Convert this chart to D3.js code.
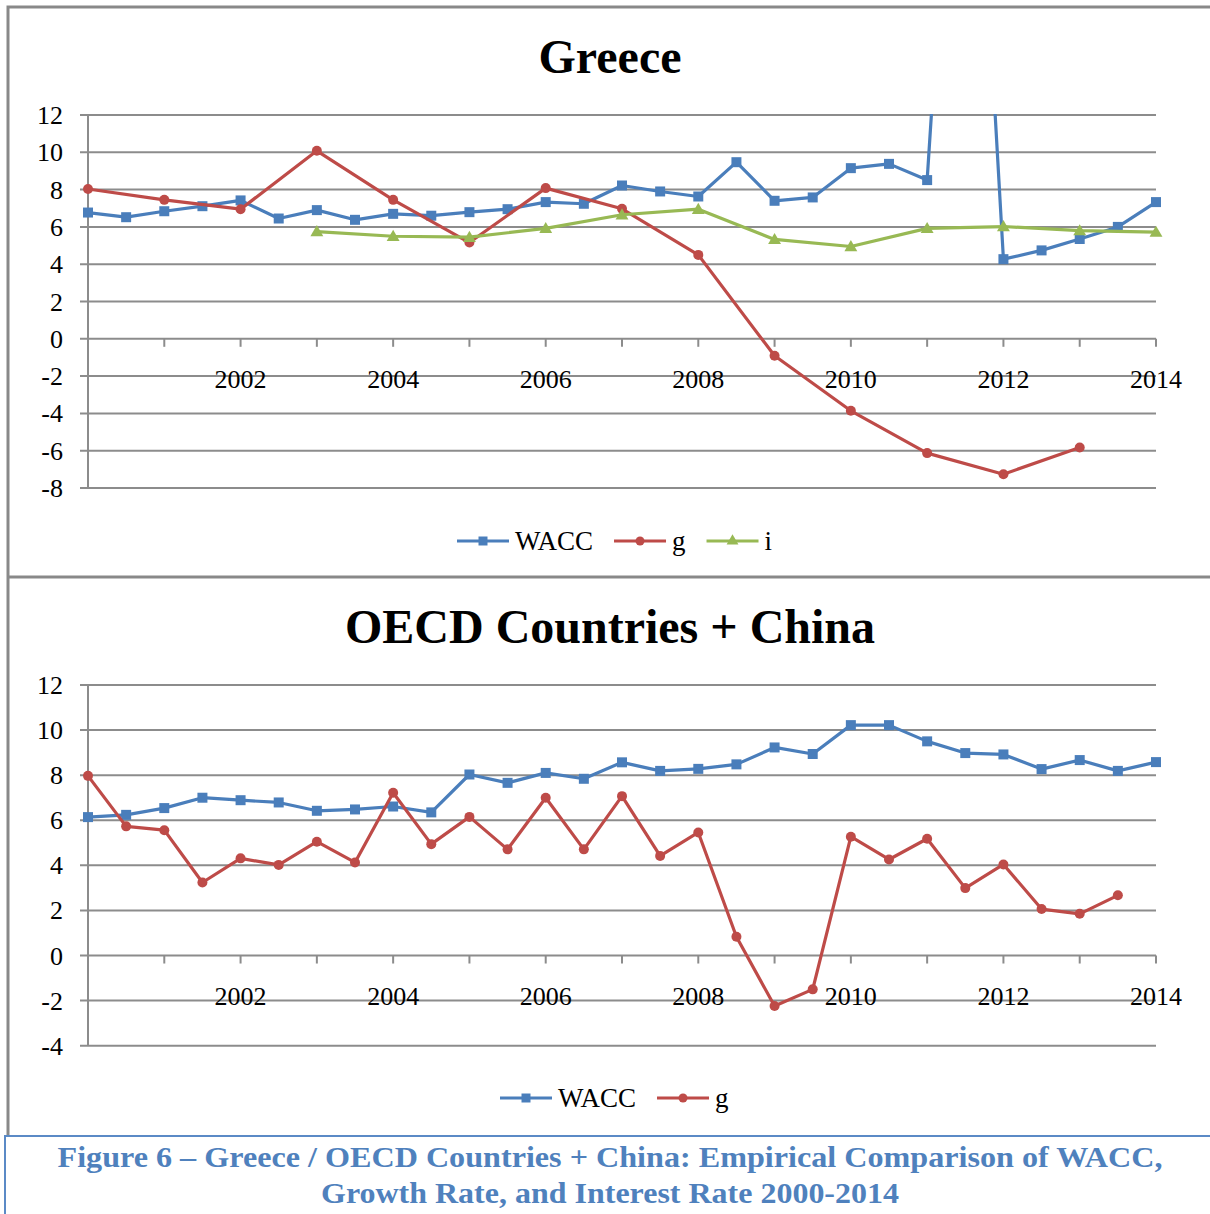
<!DOCTYPE html>
<html>
<head>
<meta charset="utf-8">
<script src="https://cdn.jsdelivr.net/npm/d3@7/dist/d3.min.js"></script>
<style>
  body { margin: 0; background: #fff; }
  svg text { font-family: "Liberation Serif", "Times New Roman", serif; }
</style>
</head>
<body>
<div id="chart"></div>
<script>
// half-year steps 2000 .. 2014
const halfYears = d3.range(0, 29).map(i => 2000 + i / 2);
const years = d3.range(2000, 2015);
const yearLabels = ['2002', '2004', '2006', '2008', '2010', '2012', '2014'];

// Greece
const greeceWacc = [6.77, 6.52, 6.84, 7.11, 7.42, 6.45, 6.90, 6.38, 6.70, 6.60, 6.79, 6.95, 7.33, 7.24,
  8.22, 7.90, 7.63, 9.47, 7.40, 7.58, 9.15, 9.38, 8.51, 40.0, 4.27, 4.74, 5.35, 6.00, 7.33];
const greeceG = [8.03, 7.45, 6.95, 10.08, 7.45, 5.16, 8.08, 6.97, 4.50, -0.91, -3.86, -6.13, -7.26, -5.83];
const greeceI = [null, null, null, 5.75, 5.50, 5.45, 5.92, 6.65, 6.95, 5.33, 4.95, 5.92, 6.02, 5.80, 5.72];

// OECD + China
const oecdWacc = [6.14, 6.24, 6.54, 7.00, 6.89, 6.79, 6.42, 6.48, 6.61, 6.35, 8.03, 7.66, 8.10, 7.84,
  8.57, 8.19, 8.28, 8.48, 9.23, 8.94, 10.22, 10.22, 9.50, 8.98, 8.92, 8.27, 8.67, 8.19, 8.58];
const oecdG = [7.97, 5.73, 5.56, 3.24, 4.31, 4.02, 5.05, 4.13, 7.22, 4.94, 6.15, 4.71, 7.00, 4.71,
  7.07, 4.42, 5.46, 0.83, -2.24, -1.50, 5.27, 4.26, 5.18, 2.99, 4.04, 2.06, 1.85, 2.67];

const blue = '#4a7ebb', red = '#be4b48', green = '#98b954', grid = '#8c8c8c';

const svg = d3.select('#chart').append('svg')
  .attr('width', 1210)
  .attr('height', 1214);

// frames
svg.append('path')
  .attr('d', 'M8,1135 V7 H1212 M8,577 H1212')
  .attr('fill', 'none').attr('stroke', '#898989').attr('stroke-width', 3);
svg.append('path')
  .attr('d', 'M5,1216 V1136 H1212')
  .attr('fill', 'none').attr('stroke', '#5b8ac6').attr('stroke-width', 2);

const x = d3.scaleLinear().domain([2000, 2014]).range([88, 1156]);

function marker(g, type, color, size) {
  if (type === 'square') return g.append('path').attr('d', d3.symbol(d3.symbolSquare, size * size)()).attr('fill', color);
  if (type === 'circle') return g.append('circle').attr('r', size / 2).attr('fill', color);
  return g.append('path').attr('d', d3.symbol(d3.symbolTriangle, size * size * 0.5)()).attr('fill', color);
}

function drawChart({ id, title, titleY, yDomain, yTop, yBottom, yTicks, labelY, series, legendY, legendX }) {
  const y = d3.scaleLinear().domain(yDomain).range([yBottom, yTop]);
  const g = svg.append('g');

  g.append('text')
    .attr('x', 610).attr('y', titleY)
    .attr('text-anchor', 'middle')
    .attr('font-size', 48).attr('font-weight', 'bold')
    .text(title);

  // gridlines
  g.append('g').selectAll('line')
    .data(yTicks)
    .join('line')
    .attr('x1', 80).attr('x2', 1156)
    .attr('y1', d => y(d)).attr('y2', d => y(d))
    .attr('stroke', grid).attr('stroke-width', 2);

  g.append('g').selectAll('text')
    .data(yTicks)
    .join('text')
    .attr('x', 63).attr('y', d => y(d) + 9)
    .attr('text-anchor', 'end')
    .attr('font-size', 26)
    .text(d => d);

  // axes
  g.append('line')
    .attr('x1', x(2000)).attr('x2', x(2000))
    .attr('y1', yTop).attr('y2', yBottom)
    .attr('stroke', grid).attr('stroke-width', 2);
  g.append('g').selectAll('line')
    .data(years.slice(1))
    .join('line')
    .attr('x1', d => x(d)).attr('x2', d => x(d))
    .attr('y1', y(0)).attr('y2', y(0) + 8)
    .attr('stroke', grid).attr('stroke-width', 2);

  g.append('g').selectAll('text')
    .data(yearLabels)
    .join('text')
    .attr('x', d => x(+d)).attr('y', labelY)
    .attr('text-anchor', 'middle')
    .attr('font-size', 26)
    .text(d => d);

  svg.append('clipPath').attr('id', id)
    .append('rect').attr('x', 0).attr('y', yTop - 1).attr('width', 1210).attr('height', 1000);

  const plot = g.append('g').attr('clip-path', `url(#${id})`);
  series.forEach(s => {
    const pts = s.values.map((v, i) => ({ t: s.xs[i], v })).filter(d => d.v !== null);
    plot.append('path')
      .datum(pts)
      .attr('fill', 'none')
      .attr('stroke', s.color).attr('stroke-width', 3.2)
      .attr('stroke-linejoin', 'round')
      .attr('d', d3.line().x(d => x(d.t)).y(d => y(d.v)));
    pts.forEach(d => {
      marker(plot, s.type, s.color, s.type === 'triangle' ? 12 : 10)
        .attr('transform', `translate(${x(d.t)},${y(d.v) + (s.type === 'triangle' ? 1 : 0)})`);
    });
  });

  // legend
  let lx = legendX;
  series.forEach(s => {
    g.append('line')
      .attr('x1', lx).attr('x2', lx + 52)
      .attr('y1', legendY).attr('y2', legendY)
      .attr('stroke', s.color).attr('stroke-width', 3.2);
    marker(g, s.type, s.color, s.type === 'triangle' ? 11 : 9)
      .attr('transform', `translate(${lx + 26},${legendY})`);
    const t = g.append('text')
      .attr('x', lx + 58).attr('y', legendY + 9)
      .attr('font-size', 27)
      .text(s.name);
    lx += 58 + t.node().getComputedTextLength() + 21;
  });
}

drawChart({
  id: 'clip-greece',
  title: 'Greece',
  titleY: 73,
  yDomain: [-8, 12], yTop: 115, yBottom: 488,
  yTicks: d3.range(-8, 13, 2),
  labelY: 388,
  legendY: 541, legendX: 457,
  series: [
    { name: 'WACC', values: greeceWacc, xs: halfYears, color: blue, type: 'square' },
    { name: 'g', values: greeceG, xs: years, color: red, type: 'circle' },
    { name: 'i', values: greeceI, xs: years, color: green, type: 'triangle' }
  ]
});

drawChart({
  id: 'clip-oecd',
  title: 'OECD Countries + China',
  titleY: 643,
  yDomain: [-4, 12], yTop: 685, yBottom: 1045.7,
  yTicks: d3.range(-4, 13, 2),
  labelY: 1005,
  legendY: 1098, legendX: 500,
  series: [
    { name: 'WACC', values: oecdWacc, xs: halfYears, color: blue, type: 'square' },
    { name: 'g', values: oecdG, xs: halfYears, color: red, type: 'circle' }
  ]
});

// caption
const caption = [
  { text: 'Figure 6 – Greece / OECD Countries + China: Empirical Comparison of WACC,', y: 1167, w: 1105 },
  { text: 'Growth Rate, and Interest Rate 2000-2014', y: 1203, w: 578 }
];
svg.append('g').selectAll('text')
  .data(caption)
  .join('text')
  .attr('x', 610).attr('y', d => d.y)
  .attr('text-anchor', 'middle')
  .attr('font-size', 29).attr('font-weight', 'bold')
  .attr('fill', '#4f81bd')
  .attr('textLength', d => d.w)
  .attr('lengthAdjust', 'spacingAndGlyphs')
  .text(d => d.text);
</script>
</body>
</html>
